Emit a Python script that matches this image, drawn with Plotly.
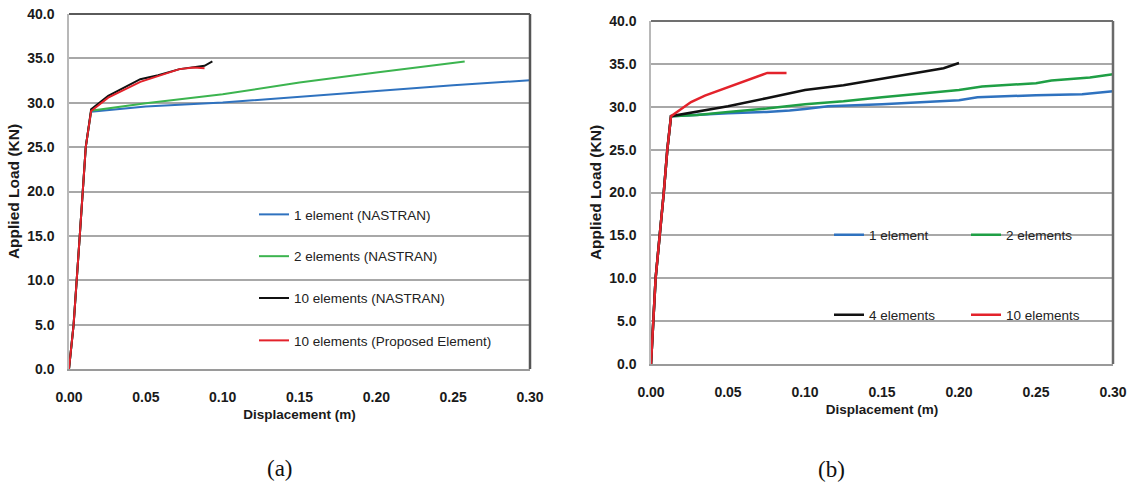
import plotly.graph_objects as go

W, H = 1130, 491

# ---------------- data ----------------
x_tick_vals = [0.00, 0.05, 0.10, 0.15, 0.20, 0.25, 0.30]
x_tick_text = ["0.00", "0.05", "0.10", "0.15", "0.20", "0.25", "0.30"]
y_tick_vals = [0, 5, 10, 15, 20, 25, 30, 35, 40]
y_tick_text = ["0.0", "5.0", "10.0", "15.0", "20.0", "25.0", "30.0", "35.0", "40.0"]

# (a)
a_names = ["1 element (NASTRAN)", "2 elements (NASTRAN)", "10 elements (NASTRAN)",
           "10 elements (Proposed Element)"]
a1_x = [0, 0.003, 0.007, 0.0109, 0.0144, 0.05, 0.10, 0.15, 0.20, 0.25, 0.30]
a1_y = [0, 5, 15, 25, 29.0, 29.57, 30.02, 30.7, 31.34, 31.98, 32.54]
a2_x = [0, 0.003, 0.007, 0.0109, 0.0144, 0.05, 0.10, 0.15, 0.20, 0.2575]
a2_y = [0, 5, 15, 25, 29.1, 29.94, 30.96, 32.28, 33.4, 34.65]
a3_x = [0, 0.003, 0.007, 0.0109, 0.0144, 0.0255, 0.0464, 0.058, 0.0719, 0.0812, 0.0882, 0.0933]
a3_y = [0, 5, 15, 25, 29.27, 30.77, 32.65, 33.1, 33.79, 33.97, 34.16, 34.65]
a4_x = [0, 0.003, 0.007, 0.0109, 0.0144, 0.0255, 0.0464, 0.0603, 0.0719, 0.0812, 0.0882]
a4_y = [0, 5, 15, 25, 29.08, 30.58, 32.35, 33.1, 33.79, 33.97, 33.9]

# (b)
b_names = ["1 element", "2 elements", "4 elements", "10 elements"]
b1_x = [0, 0.0008, 0.0015, 0.003, 0.0083, 0.0106, 0.013, 0.03, 0.05, 0.075, 0.09, 0.10,
        0.115, 0.15, 0.175, 0.20, 0.212, 0.25, 0.28, 0.29, 0.30]
b1_y = [0, 3, 5, 10, 20, 25, 28.9, 29.1, 29.25, 29.4, 29.55, 29.75,
        30.05, 30.3, 30.5, 30.75, 31.1, 31.35, 31.45, 31.65, 31.8]
b2_x = [0, 0.0008, 0.0015, 0.003, 0.0083, 0.0106, 0.013, 0.03, 0.05, 0.075, 0.10, 0.125,
        0.15, 0.175, 0.20, 0.215, 0.25, 0.26, 0.285, 0.30]
b2_y = [0, 3, 5, 10, 20, 25, 28.9, 29.05, 29.4, 29.8, 30.3, 30.65,
        31.1, 31.5, 31.95, 32.35, 32.75, 33.05, 33.4, 33.8]
b3_x = [0, 0.0008, 0.0015, 0.003, 0.0083, 0.0106, 0.013, 0.03, 0.05, 0.075, 0.10, 0.125,
        0.15, 0.175, 0.19, 0.20]
b3_y = [0, 3, 5, 10, 20, 25, 28.9, 29.4, 30.05, 31.0, 31.95, 32.5,
        33.25, 34.0, 34.5, 35.1]
b4_x = [0, 0.0008, 0.0015, 0.003, 0.0083, 0.0106, 0.013, 0.02, 0.026, 0.035, 0.047, 0.058,
        0.068, 0.0755, 0.088]
b4_y = [0, 3, 5, 10, 20, 25, 28.9, 29.8, 30.55, 31.3, 32.1, 32.8,
        33.5, 33.95, 33.95]

# ---------------- styling ----------------
BLUE = "#2f72bf"
GREEN_A = "#3cb44f"
GREEN_B = "#1f9f45"
BLACK = "#111111"
RED = "#e3222b"
FONT = "Liberation Sans, Arial, sans-serif"
GRID = "#a8a8a8"

def px_x(p):
    return p / W

def px_y(p):
    return 1 - p / H

# plot areas in pixels
A_L, A_R, A_T, A_B = 69, 530, 14, 369
B_L, B_R, B_T, B_B = 651, 1113, 21, 364

fig = go.Figure()

a_series = [(a1_x, a1_y, BLUE), (a2_x, a2_y, GREEN_A), (a3_x, a3_y, BLACK), (a4_x, a4_y, RED)]
a_legend_rows = [214.6, 256.4, 298.2, 340.6]
for i, ((xs, ys, c), name) in enumerate(zip(a_series, a_names)):
    fig.add_trace(go.Scatter(x=xs, y=ys, mode="lines", name=name,
                             line=dict(color=c, width=2),
                             xaxis="x", yaxis="y",
                             legend="legend" if i == 0 else f"legend{i+1}"))

b_series = [(b1_x, b1_y, BLUE), (b2_x, b2_y, GREEN_B), (b3_x, b3_y, BLACK), (b4_x, b4_y, RED)]
b_legend_pos = [(869, 235), (1006, 235), (869, 315), (1006, 315)]
for i, ((xs, ys, c), name) in enumerate(zip(b_series, b_names)):
    fig.add_trace(go.Scatter(x=xs, y=ys, mode="lines", name=name,
                             line=dict(color=c, width=2.5),
                             xaxis="x2", yaxis="y2",
                             legend=f"legend{i+5}"))

tickfont = dict(family=FONT, size=14, color="#1a1a1a", weight="bold")
titlefont_x = dict(family=FONT, size=13.5, color="#1a1a1a", weight="bold")
titlefont_y = dict(family=FONT, size=15.5, color="#1a1a1a", weight="bold")

def xaxis_cfg(l, r, anchor):
    return dict(domain=[px_x(l), px_x(r)], anchor=anchor, range=[0, 0.30],
                tickvals=x_tick_vals, ticktext=x_tick_text, tickfont=tickfont,
                showgrid=False, zeroline=False, showline=True, linecolor="#9a9a9a",
                linewidth=1.5, ticks="", ticklabelstandoff=14, automargin=False,
                title=dict(text="Displacement (m)", font=titlefont_x, standoff=6),
                fixedrange=True)

def yaxis_cfg(t, b, anchor):
    return dict(domain=[px_y(b), px_y(t)], anchor=anchor, range=[0, 40],
                tickvals=y_tick_vals, ticktext=y_tick_text, tickfont=tickfont,
                showgrid=True, gridcolor=GRID, gridwidth=1.5, zeroline=False,
                showline=True, linecolor="#b8b8b8", linewidth=1.5, ticks="",
                ticklabelstandoff=10, automargin=False,
                title=dict(text="Applied Load (KN)", font=titlefont_y, standoff=4),
                fixedrange=True)

layout = dict(
    width=W, height=H, template="none",
    margin=dict(l=0, r=0, t=0, b=0),
    paper_bgcolor="white", plot_bgcolor="white",
    xaxis=xaxis_cfg(A_L, A_R, "y"),
    yaxis=yaxis_cfg(A_T, A_B, "x"),
    xaxis2=xaxis_cfg(B_L, B_R, "y2"),
    yaxis2=yaxis_cfg(B_T, B_B, "x2"),
    showlegend=True,
)

legfont = dict(family=FONT, size=13.5, color="#222222")
for i, row in enumerate(a_legend_rows):
    key = "legend" if i == 0 else f"legend{i+1}"
    layout[key] = dict(x=px_x(294 - 40), y=px_y(row), xanchor="left", yanchor="middle",
                       bgcolor="rgba(0,0,0,0)", borderwidth=0, font=legfont,
                       orientation="v")
for i, (lx, ly) in enumerate(b_legend_pos):
    layout[f"legend{i+5}"] = dict(x=px_x(lx - 40), y=px_y(ly), xanchor="left", yanchor="middle",
                                  bgcolor="rgba(0,0,0,0)", borderwidth=0, font=legfont,
                                  orientation="v")

fig.update_layout(**layout)

shapes = []
# masks under legends (hide gridlines, keep traces)
shapes.append(dict(type="rect", xref="paper", yref="paper", layer="between",
                   x0=px_x(247), x1=px_x(522), y0=px_y(358), y1=px_y(200),
                   fillcolor="white", line=dict(width=0)))
shapes.append(dict(type="rect", xref="paper", yref="paper", layer="between",
                   x0=px_x(829), x1=px_x(1104), y0=px_y(352), y1=px_y(200),
                   fillcolor="white", line=dict(width=0)))
# frame: top and right borders
for xr, yr, top_c, right_c in [("x domain", "y domain", "#5a5a5a", "#555555"),
                               ("x2 domain", "y2 domain", "#707070", "#6a6a6a")]:
    shapes.append(dict(type="line", xref=xr, yref=yr, x0=0, x1=1, y0=1, y1=1,
                       line=dict(color=top_c, width=2), layer="above"))
    shapes.append(dict(type="line", xref=xr, yref=yr, x0=1, x1=1, y0=0, y1=1,
                       line=dict(color=right_c, width=2.5), layer="above"))
fig.update_layout(shapes=shapes)

serif = dict(family="Liberation Serif, Times New Roman, serif", size=23, color="#111111")
fig.add_annotation(text="(a)", xref="paper", yref="paper", x=px_x(265), y=px_y(468),
                   yanchor="middle", showarrow=False, font=serif)
fig.add_annotation(text="(b)", xref="paper", yref="paper", x=px_x(847), y=px_y(469),
                   yanchor="middle", showarrow=False, font=serif)

fig.write_html("out.html")
